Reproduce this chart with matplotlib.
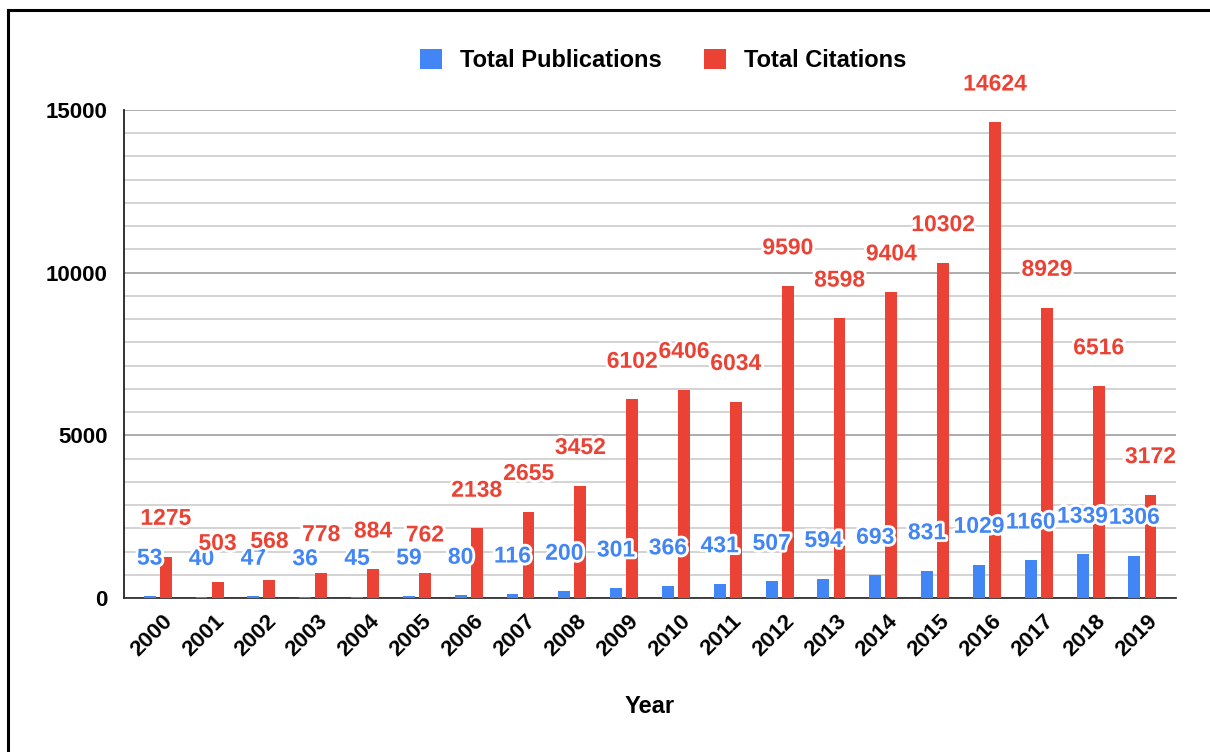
import numpy as np
import matplotlib
matplotlib.use('Agg')
import matplotlib.pyplot as plt
import matplotlib.patheffects as pe
import matplotlib.transforms as mtransforms
from matplotlib.lines import Line2D

plt.rcParams['font.family'] = ['Liberation Sans', 'DejaVu Sans']
plt.rcParams['font.weight'] = 'bold'

years = ['2000', '2001', '2002', '2003', '2004', '2005', '2006', '2007', '2008', '2009',
         '2010', '2011', '2012', '2013', '2014', '2015', '2016', '2017', '2018', '2019']
publications = [53, 40, 47, 36, 45, 59, 80, 116, 200, 301,
                366, 431, 507, 594, 693, 831, 1029, 1160, 1339, 1306]
citations = [1275, 503, 568, 778, 884, 762, 2138, 2655, 3452, 6102,
             6406, 6034, 9590, 8598, 9404, 10302, 14624, 8929, 6516, 3172]

blue = '#4285F4'
red = '#EA4335'

fig = plt.figure(figsize=(12.1, 7.52), dpi=100)
ax = fig.add_axes([0.1025, 0.2048, 0.8695, 0.6489])

x = np.arange(len(years))
w = 0.23
off = 0.155
b1 = ax.bar(x - off, publications, w, color=blue, zorder=3, label='Total Publications')
b2 = ax.bar(x + off, citations, w, color=red, zorder=3, label='Total Citations')

halo = [pe.withStroke(linewidth=4, foreground='white')]
for xi, v in zip(x, publications):
    ax.annotate(str(v), (xi - off, v), xytext=(0, 27.5), textcoords='offset points',
                ha='center', va='center', color=blue, fontsize=16.5, fontweight='bold',
                path_effects=halo, zorder=5, annotation_clip=False)
for xi, v in zip(x, citations):
    ax.annotate(str(v), (xi + off, v), xytext=(0, 27.5), textcoords='offset points',
                ha='center', va='center', color=red, fontsize=16.5, fontweight='bold',
                path_effects=halo, zorder=6, annotation_clip=False)

ax.set_xlim(-0.65, len(years) - 0.35)
ax.set_ylim(0, 15000)
ax.set_yticks([0, 5000, 10000, 15000])
ax.set_yticks(np.arange(0, 15001, 5000 / 7), minor=True)
ax.yaxis.grid(True, which='major', color='#9e9e9e', linewidth=1.2, zorder=0)
ax.yaxis.grid(True, which='minor', color='#cccccc', linewidth=1.2, zorder=0)
ax.set_axisbelow(True)
ax.tick_params(axis='y', which='both', length=0, pad=12, labelsize=16)
ax.tick_params(axis='x', length=0, pad=9, labelsize=16)
ax.set_xticks(x)
ax.set_xticklabels(years, rotation=45, ha='center', va='top')
shift = mtransforms.ScaledTranslation(-6 / 100, 0, fig.dpi_scale_trans)
for lab in ax.get_xticklabels():
    lab.set_transform(lab.get_transform() + shift)
for lab in ax.get_yticklabels() + ax.get_xticklabels():
    lab.set_fontweight('bold')

for s in ['top', 'right']:
    ax.spines[s].set_visible(False)
ax.spines['left'].set_color('#222222')
ax.spines['left'].set_linewidth(1.3)
ax.spines['bottom'].set_color('#333333')
ax.spines['bottom'].set_linewidth(1.3)

fig.text(0.537, 0.06, 'Year', ha='center', va='center', fontsize=17, fontweight='bold')

fig.legend(handles=[b1, b2], loc='center', bbox_to_anchor=(0.548, 0.920), ncol=2,
           frameon=False, fontsize=17, handlelength=0.95, handleheight=0.95,
           handletextpad=0.75, columnspacing=1.8)

# frame around the picture
fig.add_artist(Line2D([8 / 1210, 8 / 1210], [0, 1 - 10 / 752], color='black', linewidth=2.2,
                      transform=fig.transFigure))
fig.add_artist(Line2D([8 / 1210, 1], [1 - 10 / 752, 1 - 10 / 752], color='black', linewidth=2.2,
                      transform=fig.transFigure))

fig.savefig('out.png', dpi=100, facecolor='white')
